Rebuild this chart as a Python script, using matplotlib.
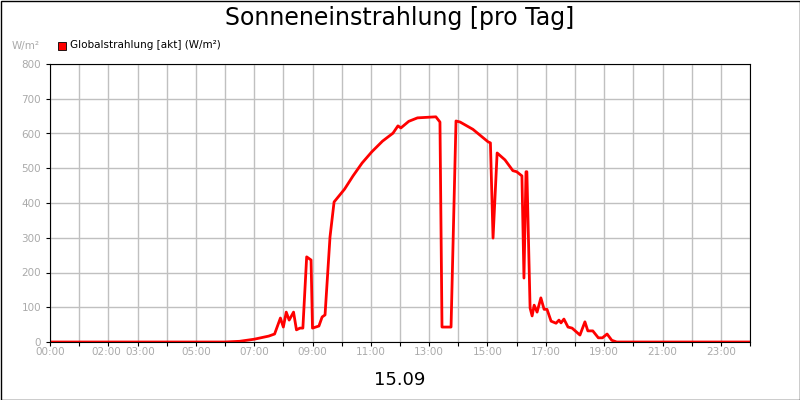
import matplotlib
matplotlib.use("Agg")
import matplotlib.pyplot as plt
from matplotlib.patches import Rectangle

hours = [0, 6.0, 6.5, 7.0, 7.5, 7.7, 7.9, 8.0, 8.1, 8.2, 8.35, 8.45, 8.57, 8.67, 8.8, 8.95, 9.0, 9.22, 9.33, 9.43, 9.6, 9.74,
         10.1, 10.39, 10.7, 11.03, 11.4, 11.76, 11.93, 12.03, 12.3, 12.6, 13.23, 13.37, 13.44, 13.75, 13.92, 14.06, 14.5, 15.02, 15.1, 15.19, 15.33,
         15.6, 15.87, 16.0, 16.18, 16.25, 16.32, 16.35, 16.46, 16.53, 16.6, 16.7, 16.83, 16.94, 17.04, 17.18, 17.35,
         17.45, 17.52, 17.62, 17.76, 17.9, 18.17, 18.34, 18.44, 18.61, 18.8, 18.94, 19.1, 19.26, 19.43, 24.0]
values = [0, 0, 2, 8, 17, 23, 69, 43, 86, 63, 86, 35, 40, 40, 245, 236, 40, 46, 72, 78, 302, 403,
          440, 478, 515, 547, 578, 601, 622, 616, 635, 645, 648, 633, 43, 43, 636, 633, 612, 576, 573, 299, 544,
          524, 493, 490, 478, 184, 490, 490, 98, 75, 106, 86, 127, 94, 94, 60, 54,
          63, 55, 66, 43, 40, 20, 58, 32, 32, 12, 12, 23, 5, 0, 0]
xticks = [0, 2, 3, 5, 7, 9, 11, 13, 15, 17, 19, 21, 23]
xlabels = ["00:00", "02:00", "03:00", "05:00", "07:00", "09:00", "11:00", "13:00", "15:00", "17:00", "19:00", "21:00", "23:00"]
yticks = [0, 100, 200, 300, 400, 500, 600, 700, 800]

fig = plt.figure(figsize=(8, 4), dpi=100)
ax = fig.add_axes([50/800, 58/400, 700/800, 278/400])
ax.plot(hours, values, color="#ff0000", lw=2)
ax.set_xlim(0, 24)
ax.set_ylim(0, 800)
ax.set_xticks(range(0, 25))
ax.set_xticklabels(["" for _ in range(25)])
for t, l in zip(xticks, xlabels):
    dx = -0.08 if t == 2 else (0.08 if t == 3 else 0)
    ax.text(t + dx, -14, l, ha="center", va="top", fontsize=7.5, color="#aaaaaa")
ax.set_yticks(yticks)
ax.set_yticklabels([str(v) for v in yticks], fontsize=7.5, color="#aaaaaa")
ax.grid(True, color="#c0c0c0", lw=1)
ax.tick_params(length=3, color="#000000")
for s in ax.spines.values():
    s.set_color("black")
ax.set_axisbelow(True)
fig.text(0.5, 0.955, "Sonneneinstrahlung [pro Tag]", ha="center", va="center", fontsize=17)
fig.text(0.5, 0.05, "15.09", ha="center", va="center", fontsize=13)
fig.text(40/800, 1-46/400, "W/m²", ha="right", va="center", fontsize=7.5, color="#aaaaaa")
fig.patches.append(Rectangle((58/800, 1-50/400), 8/800, 8/400, transform=fig.transFigure, facecolor="#ff0000", edgecolor="black", lw=0.6))
fig.text(70/800, 1-45/400, "Globalstrahlung [akt] (W/m²)", ha="left", va="center", fontsize=7.5)
fig.patches.append(Rectangle((0.5/800, 0.5/400), 799/800, 399/400, transform=fig.transFigure, facecolor="none", edgecolor="black", lw=1))
fig.savefig("out.png", dpi=100)
